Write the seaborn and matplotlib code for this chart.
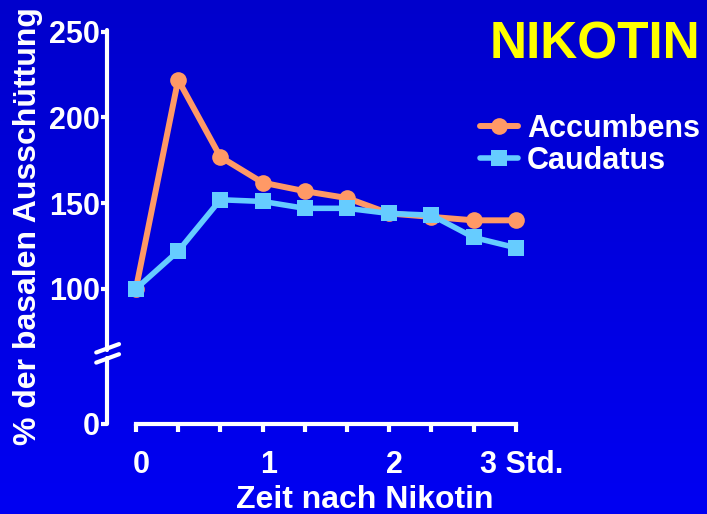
# Nikotin: Dopamin-Ausschuettung in Accumbens und Caudatus
import numpy as np
import pandas as pd
import matplotlib
matplotlib.use("Agg")
import matplotlib.pyplot as plt
import matplotlib.transforms as mtrans
from matplotlib.colors import LinearSegmentedColormap
from matplotlib.ticker import FixedLocator
import seaborn as sns

minutes = [0, 20, 40, 60, 80, 100, 120, 140, 160, 180]
accumbens = [100, 222, 177, 162, 157, 153, 144, 142, 140, 140]
caudatus = [100, 122, 152, 151, 147, 147, 144, 143, 130, 124]

ytick_values = [21.2, 100, 150, 200, 250]
ytick_labels = ["0", "100", "150", "200", "250"]
xtick_values = [0, 60, 120, 180]
xtick_labels = ["0", "1", "2", "3 Std."]
xminor_values = [20, 40, 80, 100, 140, 160]

df = pd.DataFrame({"min": minutes, "Accumbens": accumbens, "Caudatus": caudatus})

sns.set_theme(style="white")
plt.rcParams["font.family"] = ["Liberation Sans", "DejaVu Sans"]
plt.rcParams["font.weight"] = "bold"

fig = plt.figure(figsize=(7.07, 5.14), dpi=100)

# blue gradient background
bg = fig.add_axes([0, 0, 1, 1], zorder=-1)
cmap = LinearSegmentedColormap.from_list("bg", [(0, 0, 0.80), (0, 0, 0.95)])
bg.imshow(np.linspace(0, 1, 256).reshape(-1, 1), aspect="auto", cmap=cmap)
bg.axis("off")

ax = fig.add_axes([0.1513, 0.1751, 0.6322, 0.7665], zorder=1)
ax.set_facecolor("none")

sns.lineplot(data=df, x="min", y="Accumbens", ax=ax, color="#FF9966", linewidth=4.3,
             marker="o", markersize=12, markeredgewidth=0, label="Accumbens")
sns.lineplot(data=df, x="min", y="Caudatus", ax=ax, color="#66CCFF", linewidth=4,
             marker="s", markersize=12, markeredgewidth=0, label="Caudatus")

ax.set_xlim(-13.7, 198)
ax.set_ylim(21.2, 251)
ax.set_xlabel("")
ax.set_ylabel("")

for s in ["top", "right", "left"]:
    ax.spines[s].set_visible(False)
ax.spines["bottom"].set_bounds(0, 180)
ax.spines["bottom"].set_color("white")
ax.spines["bottom"].set_linewidth(3)

# y axis drawn with a break
yt = ax.get_yaxis_transform()
ax.plot([0, 0], [64.5, 251], color="white", lw=3, transform=yt, clip_on=False)
ax.plot([0, 0], [21.2, 59.5], color="white", lw=3, transform=yt, clip_on=False)
ax.plot([-0.024, 0.027], [62.9, 67.8], color="white", lw=3, transform=yt, clip_on=False)
ax.plot([-0.024, 0.027], [57.0, 61.9], color="white", lw=3, transform=yt, clip_on=False)

ax.set_yticks(ytick_values)
ax.set_yticklabels(ytick_labels)
ax.set_xticks(xtick_values)
ax.set_xticklabels(xtick_labels)
ax.xaxis.set_minor_locator(FixedLocator(xminor_values))
ax.tick_params(axis="y", left=True, length=4, width=3, color="white", pad=1,
               labelsize=22, labelcolor="white")
ax.tick_params(axis="x", which="both", bottom=True, direction="out", length=6, width=3,
               color="white", pad=13, labelsize=22, labelcolor="white")
off = mtrans.ScaledTranslation(4 / 72, 0, fig.dpi_scale_trans)
for lab in ax.get_xticklabels():
    lab.set_transform(lab.get_transform() + off)
    lab.set_fontweight("bold")
for lab in ax.get_yticklabels():
    lab.set_fontweight("bold")

ax.legend_.remove()
h, l = ax.get_legend_handles_labels()
leg = fig.legend(h, l, loc="upper left", bbox_to_anchor=(480 / 707, 1 - 114 / 514),
                 frameon=False, borderpad=0, borderaxespad=0, handlelength=1.25,
                 handletextpad=0.28, labelspacing=0.05,
                 prop={"weight": "bold", "size": 22})
for t in leg.get_texts():
    t.set_color("white")

fig.text(490 / 707, 1 - 45 / 514, "NIKOTIN", color="#FFFF00", fontsize=37,
         fontweight="bold", ha="left", va="center")
fig.text(365 / 707, 1 - 500 / 514, "Zeit nach Nikotin", color="white", fontsize=23,
         fontweight="bold", ha="center", va="center")
fig.text(28 / 707, 1 - 226 / 514, "% der basalen Ausschüttung", color="white",
         fontsize=23, fontweight="bold", ha="center", va="center", rotation=90)

fig.savefig("out.png", dpi=100)
